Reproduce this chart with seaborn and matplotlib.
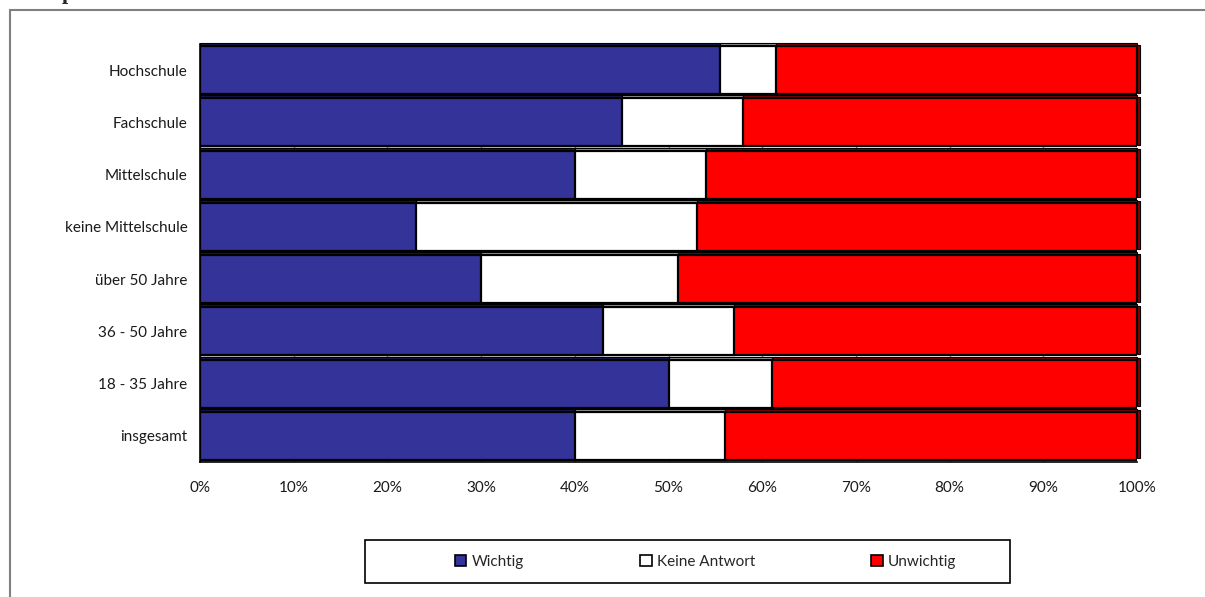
import matplotlib
matplotlib.use("Agg")
import numpy as np
import pandas as pd
import matplotlib.pyplot as plt
import seaborn as sns
from matplotlib.patches import Patch, Rectangle
from matplotlib.lines import Line2D

# Survey answers by group (percent of respondents)
groups = ["Hochschule", "Fachschule", "Mittelschule", "keine Mittelschule",
          "über 50 Jahre", "36 - 50 Jahre", "18 - 35 Jahre", "insgesamt"]
wichtig = [55.5, 45, 40, 23, 30, 43, 50, 40]
keine_antwort = [6, 13, 14, 30, 21, 14, 11, 16]
unwichtig = [38.5, 42, 46, 47, 49, 43, 39, 44]
series_names = ["Wichtig", "Keine Antwort", "Unwichtig"]
x_ticks = list(range(0, 101, 10))

colors = ["#333399", "#FFFFFF", "#FF0000"]
top_colors = ["#1f1f66", "#b0b0b0", "#8a0000"]

sns.set_style("white")
plt.rcParams["font.family"] = ["Lato", "DejaVu Sans"]

df = pd.DataFrame({"Gruppe": groups, "Wichtig": wichtig,
                   "Keine Antwort": keine_antwort, "Unwichtig": unwichtig})
df["end_w"] = df["Wichtig"]
df["end_k"] = df["Wichtig"] + df["Keine Antwort"]
df["end_u"] = df["end_k"] + df["Unwichtig"]

W, H = 1205, 597
fig = plt.figure(figsize=(W / 100, H / 100), dpi=100)
ax = fig.add_axes([200 / W, (H - 462) / H, 937 / W, 418 / H])

bar_h = 0.92
# stacked bars: draw cumulative ends from the longest to the shortest
for col, c in zip(["end_u", "end_k", "end_w"], colors[::-1]):
    sns.barplot(data=df, x=col, y="Gruppe", orient="h", color=c,
                saturation=1, width=bar_h, edgecolor="black", linewidth=1.6,
                errorbar=None, ax=ax, zorder=3)

# thin shaded top faces of each segment
starts = [np.zeros(len(groups)), df["end_w"].values, df["end_k"].values]
vals = [df["Wichtig"].values, df["Keine Antwort"].values, df["Unwichtig"].values]
depth = 0.055
for s, v, tc in zip(starts, vals, top_colors):
    ax.barh(np.arange(len(groups)) - bar_h / 2 - depth / 2, v, left=s,
            height=depth, color=tc, edgecolor="black", linewidth=0.8,
            zorder=2, clip_on=False)
# shaded right side at the end of each row
ax.barh(np.arange(len(groups)) - depth / 2, 0.3, left=df["end_u"].values,
        height=bar_h, color="#8a0000", edgecolor="black", linewidth=0.8,
        zorder=2, clip_on=False)

ax.set_xlim(0, 100)
ax.set_ylim(len(groups) - 0.5, -0.5)
ax.set_xlabel("")
ax.set_ylabel("")

ax.set_axisbelow(True)
ax.grid(axis="x", color="#808080", linewidth=1)
ax.grid(axis="y", visible=False)

ax.set_xticks(x_ticks)
ax.set_xticklabels([f"{t}%" for t in x_ticks])
ax.tick_params(axis="x", length=7, width=1, color="#808080", pad=7,
               labelsize=11, labelcolor="#1a1a1a")
ax.set_yticks(range(len(groups)))
ax.set_yticklabels(groups)
ax.tick_params(axis="y", which="major", length=0, pad=9,
               labelsize=11, labelcolor="#1a1a1a")
ax.set_yticks(np.arange(-0.5, len(groups), 1), minor=True)
ax.tick_params(axis="y", which="minor", length=7, width=1, color="#808080")

for side in ["top", "right"]:
    ax.spines[side].set_visible(False)
for side in ["left", "bottom"]:
    ax.spines[side].set_color("black")
    ax.spines[side].set_linewidth(1.2)

# outer frame of the chart area
fig.add_artist(Line2D([10 / W, 1], [1 - 10 / H, 1 - 10 / H],
                      transform=fig.transFigure, color="#808080", lw=1.5))
fig.add_artist(Line2D([10 / W, 10 / W], [0, 1 - 10 / H],
                      transform=fig.transFigure, color="#808080", lw=1.5))
fig.text(62 / W, 1 + 1.5 / H, "p", family="Liberation Serif", fontsize=16,
         fontweight="bold", va="baseline", ha="left")

# legend box and entries
fig.add_artist(Rectangle((365 / W, (H - 583) / H), 645 / W, 43 / H,
                         transform=fig.transFigure, facecolor="white",
                         edgecolor="black", lw=1.2, zorder=1))
handles = [Patch(facecolor=c, edgecolor="black", linewidth=1.2) for c in colors]
leg = fig.legend(handles, series_names, loc="center left",
                 bbox_to_anchor=(455 / W, (H - 562) / H), ncol=3,
                 frameon=False, borderpad=0, borderaxespad=0,
                 handlelength=0.75, handleheight=0.75, handletextpad=0.35,
                 columnspacing=7.6, fontsize=11)
leg.set_zorder(5)

fig.savefig("out.png", dpi=100)
